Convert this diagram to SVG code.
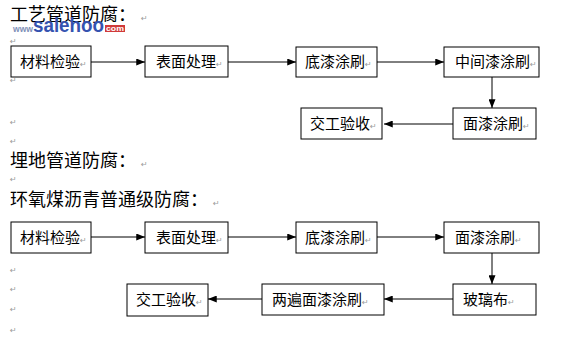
<svg xmlns="http://www.w3.org/2000/svg" width="573" height="353" viewBox="0 0 573 353">
<style>
.bg{fill:#ffffff}
.box{fill:#ffffff;stroke:#000000;stroke-width:1}
.t{font-family:"Noto Sans CJK SC","Noto Sans CJK JP",sans-serif;font-size:15px;fill:#000000}
.h{font-family:"Noto Sans CJK SC","Noto Sans CJK JP",sans-serif;font-size:18px;fill:#000000}
.pm{font-family:"DejaVu Sans",sans-serif;font-size:8px;fill:#9a9a9a}
.c{fill:none;stroke:#000000;stroke-width:1;marker-end:url(#ah)}
.wm{font-family:"Liberation Sans",Arial,sans-serif;font-weight:bold}
</style>
<defs>
<marker id="ah" viewBox="0 0 10 8" refX="10" refY="4" markerWidth="9" markerHeight="7" markerUnits="userSpaceOnUse" orient="auto">
<path d="M0,0 L10,4 L0,8 Z" fill="#000000"/>
</marker>
</defs>
<rect class="bg" x="0" y="0" width="573" height="353"/>

<g id="titles">
<text class="h" x="10" y="21">工艺管道防腐：<tspan class="pm" dx="5">↵</tspan></text>
<text class="h" x="10" y="167">埋地管道防腐：<tspan class="pm" dx="5">↵</tspan></text>
<text class="h" x="10" y="206">环氧煤沥青普通级防腐：<tspan class="pm" dx="5">↵</tspan></text>
</g>

<g id="watermark">
<text class="wm" x="13" y="32" font-size="9" fill="#8090b8" textLength="20" lengthAdjust="spacingAndGlyphs">www</text>
<text class="wm" x="33" y="32" font-size="20" fill="#3553b0" textLength="71" lengthAdjust="spacingAndGlyphs">salehoo</text>
<rect x="105" y="25" width="20" height="7" fill="#d03a3a"/>
<text class="wm" x="106" y="31" font-size="7" fill="#ffffff" textLength="18" lengthAdjust="spacingAndGlyphs">com</text>
</g>

<g id="paragraph-marks">
<text class="pm" x="10" y="44">↵</text>
<text class="pm" x="10" y="83">↵</text>
<text class="pm" x="10" y="125">↵</text>
<text class="pm" x="10" y="144">↵</text>
<text class="pm" x="10" y="182">↵</text>
<text class="pm" x="10" y="273">↵</text>
<text class="pm" x="10" y="292">↵</text>
<text class="pm" x="10" y="312">↵</text>
<text class="pm" x="10" y="333">↵</text>
</g>

<g id="connectors">
<line class="c" x1="91" y1="62" x2="145" y2="62"/>
<line class="c" x1="228" y1="62" x2="296" y2="62"/>
<line class="c" x1="377" y1="62" x2="444" y2="62"/>
<line class="c" x1="492" y1="77" x2="492" y2="108"/>
<line class="c" x1="453" y1="124" x2="384" y2="124"/>
<line class="c" x1="91" y1="237" x2="145" y2="237"/>
<line class="c" x1="228" y1="237" x2="296" y2="237"/>
<line class="c" x1="377" y1="237" x2="444" y2="237"/>
<line class="c" x1="492" y1="253" x2="492" y2="284"/>
<line class="c" x1="453" y1="299" x2="384" y2="299"/>
<line class="c" x1="262" y1="299" x2="208" y2="299"/>
</g>

<g id="a1"><rect class="box" x="11" y="46" width="80" height="31"/><text class="t" x="20" y="67">材料检验<tspan class="pm">↵</tspan></text></g>
<g id="a2"><rect class="box" x="145" y="46" width="83" height="31"/><text class="t" x="156" y="67">表面处理<tspan class="pm">↵</tspan></text></g>
<g id="a3"><rect class="box" x="296" y="47" width="81" height="30"/><text class="t" x="305" y="67">底漆涂刷<tspan class="pm">↵</tspan></text></g>
<g id="a4"><rect class="box" x="444" y="47" width="95" height="30"/><text class="t" x="455" y="67">中间漆涂刷<tspan class="pm">↵</tspan></text></g>
<g id="a5"><rect class="box" x="453" y="108" width="83" height="31"/><text class="t" x="463" y="129">面漆涂刷<tspan class="pm">↵</tspan></text></g>
<g id="a6"><rect class="box" x="301" y="108" width="81" height="31"/><text class="t" x="310" y="129">交工验收<tspan class="pm">↵</tspan></text></g>

<g id="b1"><rect class="box" x="11" y="222" width="80" height="31"/><text class="t" x="20" y="243">材料检验<tspan class="pm">↵</tspan></text></g>
<g id="b2"><rect class="box" x="145" y="222" width="83" height="31"/><text class="t" x="156" y="243">表面处理<tspan class="pm">↵</tspan></text></g>
<g id="b3"><rect class="box" x="296" y="222" width="81" height="31"/><text class="t" x="305" y="243">底漆涂刷<tspan class="pm">↵</tspan></text></g>
<g id="b4"><rect class="box" x="444" y="222" width="95" height="31"/><text class="t" x="455" y="243">面漆涂刷<tspan class="pm">↵</tspan></text></g>
<g id="b5"><rect class="box" x="453" y="284" width="83" height="31"/><text class="t" x="463" y="305">玻璃布<tspan class="pm">↵</tspan></text></g>
<g id="b6"><rect class="box" x="262" y="284" width="122" height="31"/><text class="t" x="272" y="305">两遍面漆涂刷<tspan class="pm">↵</tspan></text></g>
<g id="b7"><rect class="box" x="127" y="284" width="81" height="32"/><text class="t" x="136" y="305">交工验收<tspan class="pm">↵</tspan></text></g>
</svg>
